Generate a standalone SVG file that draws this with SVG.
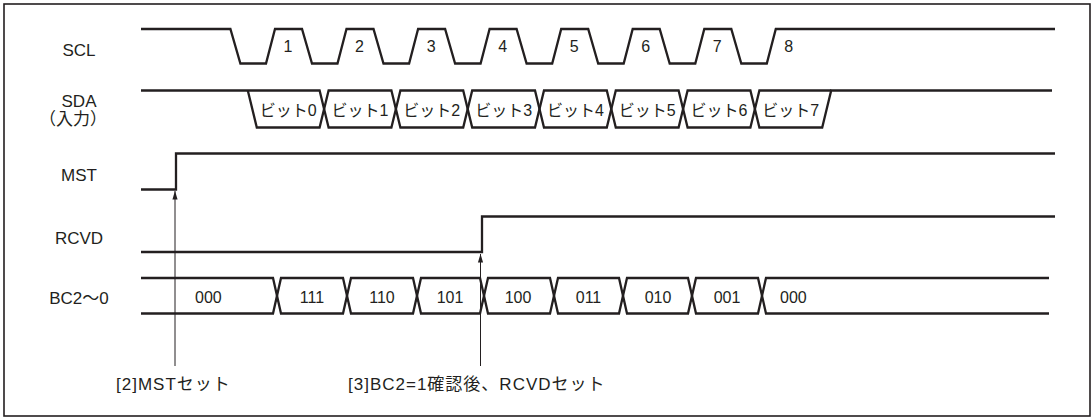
<svg xmlns="http://www.w3.org/2000/svg" width="1092" height="418" viewBox="0 0 1092 418">
<style>
.sig{fill:none;stroke:#231f20;stroke-width:2.3;stroke-linejoin:miter}
.lbl{font-family:"Liberation Sans","Noto Sans CJK JP",sans-serif;font-size:16px;fill:#231f20}
.big{font-size:17px}
.mid{text-anchor:middle}
.arr{fill:none;stroke:#231f20;stroke-width:1}
.note{font-family:"Liberation Sans","Noto Sans CJK JP",sans-serif;font-size:17px;fill:#231f20;letter-spacing:1px}
</style>
<defs>
<marker id="ah" markerUnits="userSpaceOnUse" markerWidth="9" markerHeight="6" refX="8.5" refY="3" orient="auto" viewBox="0 0 9 6" overflow="visible">
<path d="M0,0.4 L8.5,3 L0,5.6 Z" fill="#231f20"/>
</marker>
</defs>
<rect x="4" y="4" width="1086" height="412" fill="#fff" stroke="#231f20" stroke-width="1.6"/>
<g id="labels" class="lbl big mid">
<text x="79" y="56">SCL</text>
<text x="79" y="107">SDA</text>
<text x="73" y="125">（入力）</text>
<text x="79" y="181">MST</text>
<text x="79" y="244">RCVD</text>
<text x="79" y="303.5">BC2〜0</text>
</g>
<g id="scl">
<path class="sig" d="M141,29 H230.4 L240.4,63.5 H266 L275,29 H302 L312,63.5 H337.5 L346.5,29 H373.5 L383.5,63.5 H409.1 L418.1,29 H445.1 L455.1,63.5 H480.6 L489.6,29 H516.6 L526.6,63.5 H552.2 L561.2,29 H588.2 L598.2,63.5 H623.7 L632.7,29 H659.7 L669.7,63.5 H695.3 L704.3,29 H731.3 L741.3,63.5 H766.8 L775.8,29 H1055"/>
<g class="lbl mid">
<text x="288" y="52">1</text>
<text x="359.5" y="52">2</text>
<text x="431.1" y="52">3</text>
<text x="502.6" y="52">4</text>
<text x="574.2" y="52">5</text>
<text x="645.7" y="52">6</text>
<text x="717.3" y="52">7</text>
<text x="788.8" y="52">8</text>
</g>
</g>
<g id="sda">
<path class="sig" d="M141,90.5 H319.6 L328.6,127.5 H391.4 L400.4,90.5 H463.2 L472.2,127.5 H535 L544,90.5 H606.8 L615.8,127.5 H678.6 L687.6,90.5 H750.4 L759.4,127.5 H822.2 L831.2,90.5 H1052"/>
<path class="sig" d="M247.8,90.5 L256.8,127.5 H319.6 L328.6,90.5 H391.4 L400.4,127.5 H463.2 L472.2,90.5 H535 L544,127.5 H606.8 L615.8,90.5 H678.6 L687.6,127.5 H750.4 L759.4,90.5 H831.2"/>
<g class="lbl mid">
<text x="288.2" y="115.5">ビット0</text>
<text x="360" y="115.5">ビット1</text>
<text x="431.8" y="115.5">ビット2</text>
<text x="503.6" y="115.5">ビット3</text>
<text x="575.4" y="115.5">ビット4</text>
<text x="647.2" y="115.5">ビット5</text>
<text x="719" y="115.5">ビット6</text>
<text x="790.8" y="115.5">ビット7</text>
</g>
</g>
<g id="mst">
<path class="sig" d="M141,189.5 H176 V153.5 H1055"/>
</g>
<g id="rcvd">
<path class="sig" d="M141,252 H482 V216.5 H1055"/>
</g>
<g id="bc">
<path class="sig" d="M141,278 H273 L281,313.5 H343 L351,278 H413 L421,313.5 H480 L488,278 H550 L558,313.5 H619 L627,278 H688 L696,313.5 H758 L766,278 H1049"/>
<path class="sig" d="M141,313.5 H273 L281,278 H343 L351,313.5 H413 L421,278 H480 L488,313.5 H550 L558,278 H619 L627,313.5 H688 L696,278 H758 L766,313.5 H1049"/>
<g class="lbl">
<text x="195" y="302.5">000</text>
<text class="mid" x="312" y="302.5">111</text>
<text class="mid" x="382" y="302.5">110</text>
<text class="mid" x="450" y="302.5">101</text>
<text class="mid" x="518" y="302.5">100</text>
<text class="mid" x="588.5" y="302.5">011</text>
<text class="mid" x="658" y="302.5">010</text>
<text class="mid" x="727" y="302.5">001</text>
<text x="780" y="302.5">000</text>
</g>
</g>
<g id="connectors">
<line class="arr" x1="175" y1="366" x2="175" y2="191" marker-end="url(#ah)"/>
<line class="arr" x1="480.5" y1="366" x2="480.5" y2="254" marker-end="url(#ah)"/>
</g>
<g id="notes">
<text class="note" x="116" y="390">[2]MSTセット</text>
<text class="note" x="348" y="390">[3]BC2=1確認後、RCVDセット</text>
</g>
</svg>
